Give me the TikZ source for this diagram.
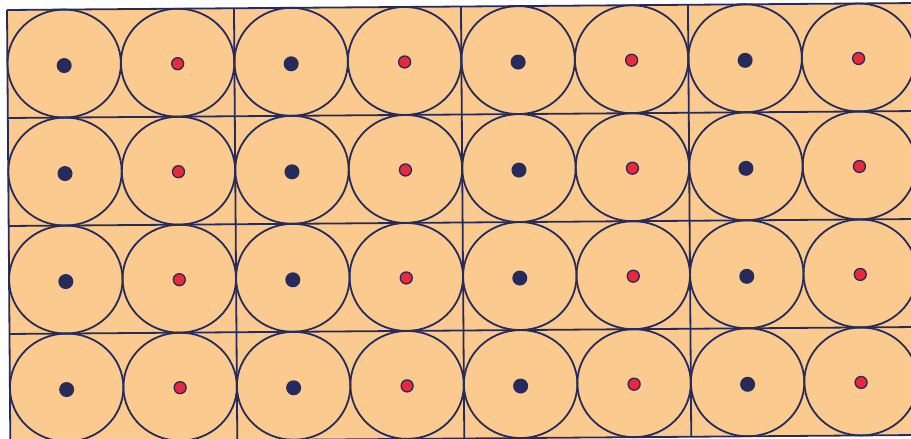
\documentclass[tikz,border=0pt]{standalone}
\definecolor{peach}{HTML}{FBCA8F}
\definecolor{navy}{HTML}{262B5C}
\definecolor{dotred}{HTML}{E8283C}
\begin{document}
\begin{tikzpicture}[x=1pt,y=-1pt,
  cellline/.style={draw=navy,line width=1.8pt},
  ringline/.style={draw=navy,line width=1.8pt},
  bluedot/.style={fill=navy},
  reddot/.style={fill=dotred,draw=navy,line width=1.3pt}]
\useasboundingbox (0,0) rectangle (911,439);
\clip (0,0) rectangle (911,439);
\fill[white] (0,0) rectangle (911,439);
\begin{scope}[rotate around={0.44:(7,10)}]
  \fill[peach] (7,10) rectangle (915,442);
  \foreach \c in {0,...,3}{
    \foreach \r in {0,...,3}{
      \pgfmathsetmacro{\xa}{7+227*\c+56.75}
      \pgfmathsetmacro{\xb}{7+227*\c+170.25}
      \pgfmathsetmacro{\yc}{10+108*\r+54}
      \draw[ringline] (\xa,\yc) ellipse [x radius=56.75, y radius=54];
      \draw[ringline] (\xb,\yc) ellipse [x radius=56.75, y radius=54];
      \fill[bluedot] (\xa,\yc+2) circle [radius=7.5];
      \filldraw[reddot] (\xb,\yc+1) circle [radius=6];
    }
  }
  \foreach \c in {0,...,4}{
    \draw[cellline] (7+227*\c,10) -- (7+227*\c,442);
  }
  \foreach \r in {0,...,4}{
    \draw[cellline] (7,10+108*\r) -- (915,10+108*\r);
  }
\end{scope}
\end{tikzpicture}
\end{document}
